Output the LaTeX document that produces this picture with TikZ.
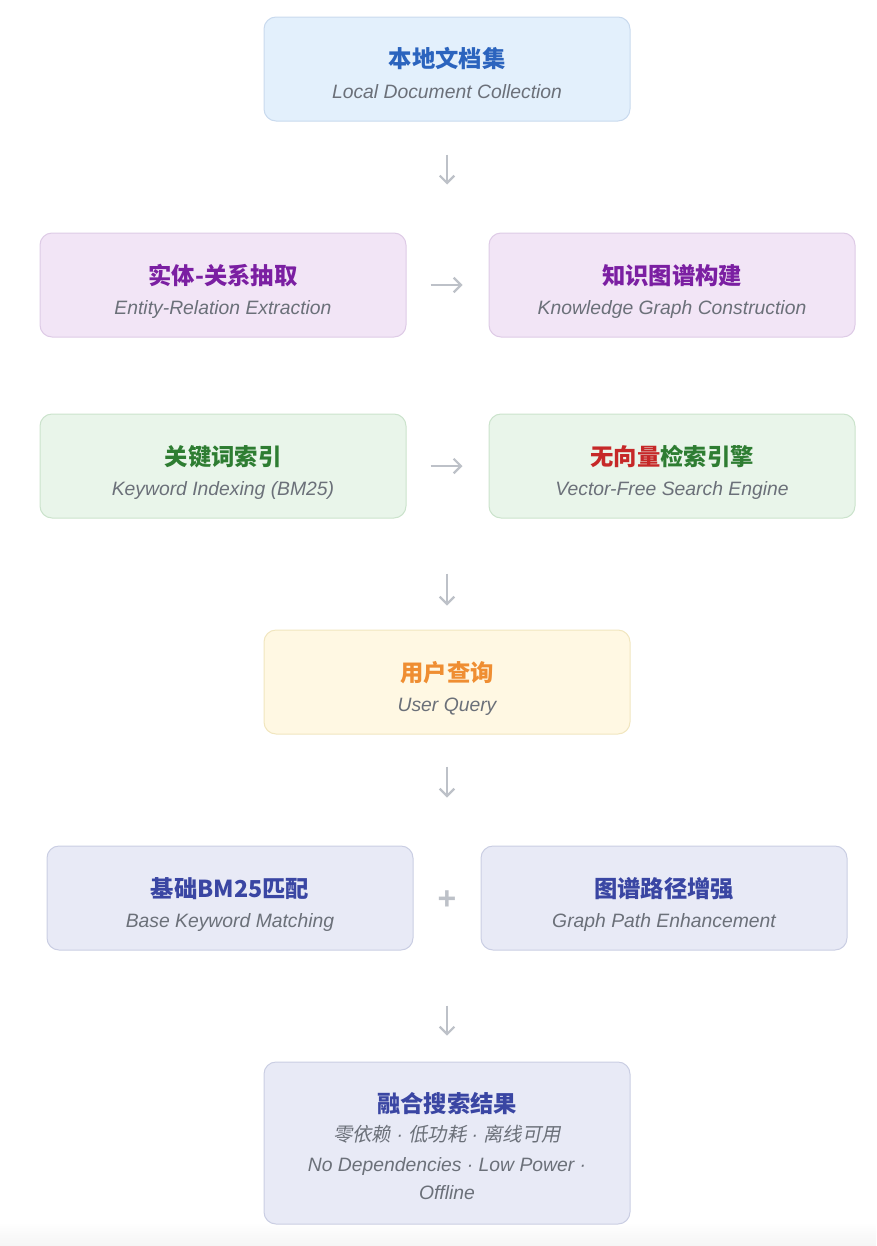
\documentclass[tikz,border=0pt]{standalone}
\usepackage{fontspec}
\setmainfont{Liberation Sans}
\newfontfamily\cjk{Noto Sans CJK SC}
\newfontfamily\cjkit{Noto Sans CJK SC}[FakeSlant=0.2]
\usetikzlibrary{arrows.meta,positioning}

\definecolor{blueFill}{HTML}{E3F0FC}
\definecolor{blueLine}{HTML}{C9DAEE}
\definecolor{blueHead}{HTML}{2B64BE}
\definecolor{purpFill}{HTML}{F2E5F6}
\definecolor{purpLine}{HTML}{DECBE6}
\definecolor{purpHead}{HTML}{7B1FA2}
\definecolor{grnFill}{HTML}{E9F5EA}
\definecolor{grnLine}{HTML}{CBE3CC}
\definecolor{grnHead}{HTML}{2E7D32}
\definecolor{redHead}{HTML}{C62828}
\definecolor{ylwFill}{HTML}{FFF8E3}
\definecolor{ylwLine}{HTML}{F1E6BF}
\definecolor{ylwHead}{HTML}{EF8E32}
\definecolor{indFill}{HTML}{E8EAF6}
\definecolor{indLine}{HTML}{CACEE3}
\definecolor{indHead}{HTML}{3A46A3}
\definecolor{subGray}{HTML}{6B7079}
\definecolor{arrowGray}{HTML}{BDC1C8}

\newcommand{\sep}{{\fontspec{Liberation Sans}\itshape\ ·\ }}

\begin{document}
\begin{tikzpicture}[x=0.75pt, y=-0.75pt, >={Straight Barb[length=5.5pt,width=11pt]},
    stage/.style={rounded corners=9pt, line width=0.75pt, minimum width=274.5pt, minimum height=78pt, inner sep=0pt},
    head/.style={anchor=base, inner sep=0pt, font=\cjk\bfseries\fontsize{17.5}{20}\selectfont},
    sub/.style={anchor=base, inner sep=0pt, text=subGray, font=\itshape\fontsize{14.5}{17}\selectfont},
    flow/.style={->, draw=arrowGray, line width=1.6pt}]
    \useasboundingbox (0,0) rectangle (876,1246);
    \shade[top color=white, bottom color=black!4] (0,1222) rectangle (876,1246);

    % source documents
    \node[stage, fill=blueFill, draw=blueLine] (docs) at (447,69) {};
    \node[head, text=blueHead] (docsT) at (447,67) {本地文档集};
    \node[sub] (docsS) at (447,98) {Local Document Collection};

    % graph branch
    \node[stage, fill=purpFill, draw=purpLine] (ent) at (223,285) {};
    \node[head, text=purpHead] (entT) at (223,284) {实体-关系抽取};
    \node[sub] (entS) at (223,314) {Entity-Relation Extraction};
    \node[stage, fill=purpFill, draw=purpLine] (kg) at (672,285) {};
    \node[head, text=purpHead] (kgT) at (672,284) {知识图谱构建};
    \node[sub] (kgS) at (672,314) {Knowledge Graph Construction};

    % keyword branch
    \node[stage, fill=grnFill, draw=grnLine] (kw) at (223,466) {};
    \node[head, text=grnHead] (kwT) at (223,465) {关键词索引};
    \node[sub] (kwS) at (223,495) {Keyword Indexing (BM25)};
    \node[stage, fill=grnFill, draw=grnLine] (eng) at (672,466) {};
    \node[head] (engT) at (672,465) {\textcolor{redHead}{无向量}\textcolor{grnHead}{检索引擎}};
    \node[sub] (engS) at (672,495) {Vector-Free Search Engine};

    % query
    \node[stage, fill=ylwFill, draw=ylwLine] (query) at (447,682) {};
    \node[head, text=ylwHead] (queryT) at (447,681) {用户查询};
    \node[sub] (queryS) at (447,711) {User Query};

    % matching
    \node[stage, fill=indFill, draw=indLine] (base) at (230,898) {};
    \node[head, text=indHead] (baseT) at (230,897) {基础BM25匹配};
    \node[sub] (baseS) at (230,927) {Base Keyword Matching};
    \node[stage, fill=indFill, draw=indLine] (path) at (664,898) {};
    \node[head, text=indHead] (pathT) at (664,897) {图谱路径增强};
    \node[sub] (pathS) at (664,927) {Graph Path Enhancement};
    \node[text=arrowGray, font=\bfseries\fontsize{24}{24}\selectfont] (plus) at (447,900) {+};

    % result
    \node[stage, fill=indFill, draw=indLine, minimum height=121.5pt] (res) at (447,1143) {};
    \node[head, text=indHead] (resT) at (447,1112) {融合搜索结果};
    \node[sub, font=\cjkit\fontsize{14.5}{17}\selectfont] (resA) at (447,1141) {零依赖\sep 低功耗\sep 离线可用};
    \node[sub] (resB) at (447,1171) {No Dependencies · Low Power ·};
    \node[sub] (resC) at (447,1199) {Offline};

    \draw[flow, shorten <=24.75pt, shorten >=36pt] (docs.south) -- (docs.south |- ent.north);
    \draw[flow, shorten <=18pt, shorten >=19.5pt] (ent.east) -- (kg.west);
    \draw[flow, shorten <=18pt, shorten >=19.5pt] (kw.east) -- (eng.west);
    \draw[flow, shorten <=41.25pt, shorten >=18pt] (query.north |- kw.south) -- (query.north);
    \draw[flow, shorten <=24pt, shorten >=36pt] (query.south) -- (query.south |- base.north);
    \draw[flow, shorten <=41.25pt, shorten >=19.5pt] (res.north |- base.south) -- (res.north);
\end{tikzpicture}
\end{document}
